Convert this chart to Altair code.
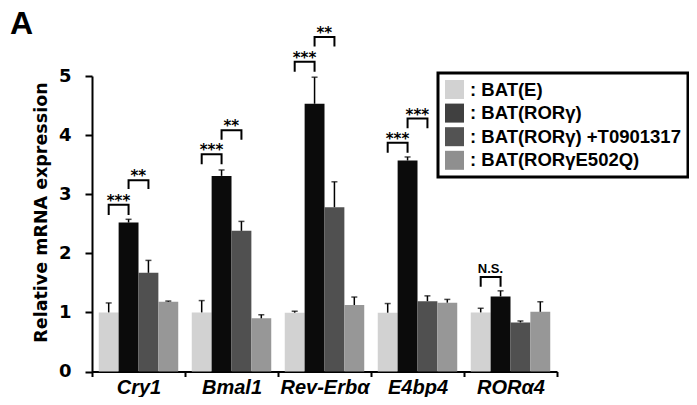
import altair as alt
import pandas as pd

genes = ["Cry1", "Bmal1", "Rev-Erbα", "E4bp4", "RORα4"]
groups = ["BAT(E)", "BAT(RORγ)", "BAT(RORγ) +T0901317", "BAT(RORγE502Q)"]
bar_colors = ["#d2d2d2", "#0b0b0b", "#505050", "#979797"]
legend_colors = ["#d2d2d2", "#404040", "#535353", "#8f8f8f"]

val_E = [1.00, 1.00, 0.995, 0.995, 1.00]
val_R = [2.52, 3.31, 4.53, 3.57, 1.27]
val_T = [1.67, 2.38, 2.78, 1.19, 0.83]
val_Q = [1.18, 0.90, 1.125, 1.165, 1.01]
err_E = [0.16, 0.20, 0.025, 0.155, 0.07]
err_R = [0.055, 0.10, 0.45, 0.06, 0.095]
err_T = [0.21, 0.16, 0.43, 0.09, 0.025]
err_Q = [0.012, 0.06, 0.135, 0.055, 0.17]

br_gene = ["Cry1", "Cry1", "Bmal1", "Bmal1", "Rev-Erbα", "Rev-Erbα", "E4bp4", "E4bp4", "RORα4"]
br_from = [0, 1, 0, 1, 0, 1, 0, 1, 0]
br_to = [1, 2, 1, 2, 1, 2, 1, 2, 1]
br_label = ["***", "**", "***", "**", "***", "**", "***", "***", "N.S."]
br_top = [2.82, 3.235, 3.675, 4.08, 5.24, 5.66, 3.87, 4.28, 1.60]
br_bottom = [2.65, 3.09, 3.505, 3.92, 5.07, 5.50, 3.70, 4.115, 1.435]

legend_labels = [": " + g for g in groups]

rows = []
for gi, (vals, errs) in enumerate([(val_E, err_E), (val_R, err_R), (val_T, err_T), (val_Q, err_Q)]):
    for k, g in enumerate(genes):
        rows.append({"gene": g, "group": groups[gi], "series": legend_labels[gi],
                     "value": vals[k], "top": vals[k] + errs[k]})
bars_df = pd.DataFrame(rows)

brows = []
trows = []
for i in range(len(br_gene)):
    pts = [(br_from[i], br_bottom[i]), (br_from[i], br_top[i]),
           (br_to[i], br_top[i]), (br_to[i], br_bottom[i])]
    for o, (gidx, yv) in enumerate(pts):
        brows.append({"id": i, "ord": o, "gene": br_gene[i], "group": groups[gidx], "y": yv})
    trows.append({"gene": br_gene[i], "group": groups[br_from[i]], "y": br_top[i],
                  "label": br_label[i], "ns": br_label[i] == "N.S."})
br_df = pd.DataFrame(brows)
txt_df = pd.DataFrame(trows)

x_axis = alt.Axis(title=None, tickBand="extent", labelAngle=0,
                  labelFont="Liberation Sans", labelFontStyle="italic",
                  labelFontWeight="bold", labelFontSize=20, labelColor="black",
                  domainColor="black", domainWidth=2, tickColor="black",
                  tickWidth=2, tickSize=5, labelPadding=1)
x_scale = alt.Scale(paddingInner=0, paddingOuter=0)
x_enc = alt.X("gene:N", sort=genes, scale=x_scale, axis=x_axis)
xo_enc = alt.XOffset("group:N", sort=groups,
                     scale=alt.Scale(domain=groups, paddingOuter=0.34, paddingInner=0))
y_axis = alt.Axis(values=[0, 1, 2, 3, 4, 5], format="d", title="Relative mRNA expression",
                  titleFont="DejaVu Sans", titleFontSize=17.5, titleFontWeight="bold",
                  titleColor="black", titlePadding=8, titleY=136,
                  labelFont="DejaVu Sans", labelFontSize=18, labelFontWeight="bold",
                  labelColor="black", tickSize=7, tickWidth=2, tickColor="black",
                  domainWidth=2, domainColor="black", labelPadding=14, grid=False)
y_scale = alt.Scale(domain=[0, 5], nice=False)

base = alt.Chart(bars_df)

bars = base.mark_bar().encode(
    x=x_enc, xOffset=xo_enc,
    y=alt.Y("value:Q", scale=y_scale, axis=y_axis),
    fill=alt.Fill("group:N", scale=alt.Scale(domain=groups, range=bar_colors), legend=None),
)

legend_layer = base.mark_square(opacity=0).encode(
    x=x_enc, xOffset=xo_enc,
    y=alt.Y("value:Q", scale=y_scale),
    color=alt.Color("series:N", scale=alt.Scale(domain=legend_labels, range=legend_colors),
                    legend=alt.Legend(title=None, orient="none", legendX=346, legendY=-3,
                                      symbolType="square", symbolSize=361,
                                      symbolStrokeWidth=0, symbolOpacity=1,
                                      labelFont="Liberation Sans", labelFontSize=18.5,
                                      labelFontWeight="bold", labelColor="black",
                                      labelLimit=400,
                                      strokeColor="black", padding=7, rowPadding=4.6,
                                      labelOffset=6)),
)

err_rule = base.mark_rule(color="black", strokeWidth=1.5).encode(
    x=x_enc, xOffset=xo_enc,
    y=alt.Y("value:Q", scale=y_scale), y2="top:Q",
)
err_cap = base.mark_tick(color="black", thickness=1.5, size=6).encode(
    x=x_enc, xOffset=xo_enc,
    y=alt.Y("top:Q", scale=y_scale),
)

brackets = alt.Chart(br_df).mark_line(color="black", strokeWidth=2).encode(
    x=x_enc, xOffset=xo_enc,
    y=alt.Y("y:Q", scale=y_scale),
    detail="id:N", order="ord:Q",
)

stars = alt.Chart(txt_df).transform_filter("!datum.ns").mark_text(
    font="DejaVu Sans", fontSize=15, fontWeight="bold", color="black",
    baseline="alphabetic", dx=9.8, dy=1
).encode(x=x_enc, xOffset=xo_enc, y=alt.Y("y:Q", scale=y_scale), text="label:N")

ns = alt.Chart(txt_df).transform_filter("datum.ns").mark_text(
    font="Liberation Sans", fontSize=13, fontWeight="bold", color="black",
    baseline="alphabetic", dx=9.8, dy=-4
).encode(x=x_enc, xOffset=xo_enc, y=alt.Y("y:Q", scale=y_scale), text="label:N")

chart = alt.layer(bars, legend_layer, err_rule, err_cap, brackets, stars, ns).properties(
    width=465, height=295.5,
    padding={"left": 84, "top": 68, "right": 132, "bottom": 25},
    autosize=alt.AutoSizeParams(type="none"),
    title=alt.TitleParams("A", anchor="start", frame="group", font="Liberation Sans",
                          fontSize=32, fontWeight="bold", color="black", dx=-82, dy=19),
).configure_view(stroke=None).configure_legend(strokeWidth=3)

chart.save("out.html", embed_options={"renderer": "svg", "actions": False})
